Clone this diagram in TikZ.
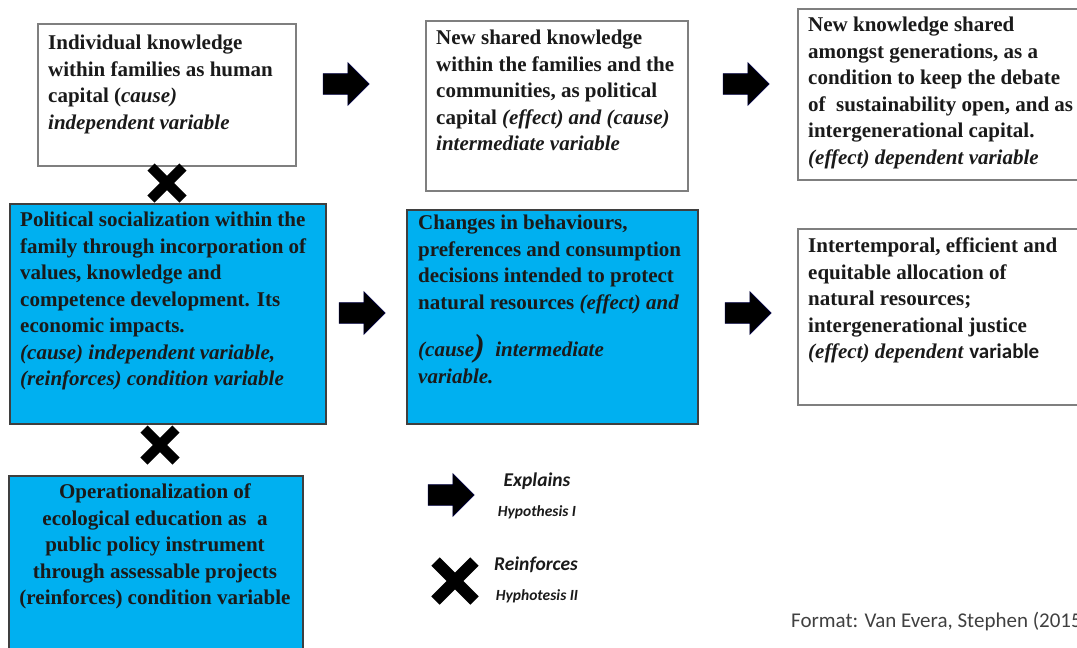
\documentclass[tikz,border=0pt]{standalone}
\usepackage{fontspec}
\setmainfont{Liberation Serif}
\newfontfamily\calibri{Carlito}
\usetikzlibrary{shapes.arrows,shapes.misc}

\definecolor{boxblue}{HTML}{00B0F0}
\definecolor{boxline}{HTML}{7F7F7F}
\definecolor{darkline}{HTML}{3F3F3F}
\definecolor{inktext}{HTML}{1A1A1A}

\tikzset{
  whitebox/.style={draw=boxline, line width=1.5pt, fill=white, anchor=north west, inner sep=0pt},
  bluebox/.style={draw=darkline, line width=1.5pt, fill=boxblue, anchor=north west, inner sep=0pt},
  boxtext/.style={anchor=north west, inner sep=0pt, align=left, text=inktext,
    font=\fontsize{21}{26.5}\selectfont\bfseries},
  blockarrow/.style={shape=single arrow, fill=black, draw=black!75!blue, line width=0.6pt,
    single arrow head extend=11pt, inner xsep=0pt, inner ysep=10pt, minimum height=46pt},
  crossmark/.style={shape=cross out, draw=black, line width=10pt, minimum size=22pt, inner sep=0pt},
  legendtext/.style={inner sep=0pt, text=inktext, font=\calibri\bfseries\itshape},
}

\begin{document}
\begin{tikzpicture}[x=1pt,y=-1pt]
  \clip (0,0) rectangle (1077,648);

  %draw top row
  \node[whitebox, minimum width=258pt, minimum height=142pt] (human) at (37,23) {};
  \node[boxtext] (humantxt) at (48,35) {Individual knowledge\\within families as human\\capital (\textit{cause)}\\\textit{independent variable}};

  \node[whitebox, minimum width=262pt, minimum height=170pt] (political) at (425,20) {};
  \node[boxtext] (politicaltxt) at (436,30) {New shared knowledge\\within the families and the\\communities, as political\\capital \textit{(effect) and (cause)}\\\textit{intermediate variable}};

  \node[whitebox, minimum width=300pt, minimum height=171pt] (intergen) at (797,8) {};
  \node[boxtext] (intergentxt) at (808,17) {New knowledge shared\\amongst generations, as a\\condition to keep the debate\\of\ \ sustainability open, and as\\intergenerational capital.\\\textit{(effect) dependent variable}};

  %draw middle row
  \node[bluebox, minimum width=316pt, minimum height=220pt] (social) at (9,203) {};
  \node[boxtext] (socialtxt) at (20,212) {Political socialization within the\\family through incorporation of\\values, knowledge and\\competence development. Its\\economic impacts.\\\textit{(cause) independent variable,}\\\textit{(reinforces) condition variable}};

  \node[bluebox, minimum width=291pt, minimum height=214pt] (behav) at (406,209) {};
  \node[boxtext] (behavtxt) at (418,215) {Changes in behaviours,\\preferences and consumption\\decisions intended to protect\\natural resources \textit{(effect) and}\\[20pt]\textit{(cause{\fontsize{32}{32}\selectfont)}}\ \ \textit{intermediate}\\\textit{variable.}};

  \node[whitebox, minimum width=300pt, minimum height=176pt] (alloc) at (797,228) {};
  \node[boxtext] (alloctxt) at (808,238) {Intertemporal, efficient and\\equitable allocation of\\natural resources;\\intergenerational justice\\\textit{(effect) dependent} {\calibri variable}};

  %draw bottom box
  \node[bluebox, minimum width=294pt, minimum height=200pt] (ecoedu) at (8,475) {};
  \node[boxtext, anchor=north, align=center] (ecoedutxt) at (155,484) {Operationalization of\\ecological education as\ \ a\\public policy instrument\\through assessable projects\\(reinforces) condition variable};

  %draw arrows and crosses
  \node[blockarrow] (arrA) at (341,84) {};
  \node[blockarrow] (arrB) at (741,84) {};
  \node[blockarrow] (arrC) at (357,313) {};
  \node[blockarrow] (arrD) at (743,313) {};
  \node[crossmark] (crossA) at (167,183) {};
  \node[crossmark] (crossB) at (160,445) {};

  %draw legend
  \node[blockarrow] (keyarrow) at (446,495) {};
  \node[crossmark, line width=12pt, minimum size=27pt] (keycross) at (455,581) {};
  \node[legendtext, font=\calibri\bfseries\itshape\fontsize{19.5}{22}\selectfont] (explains) at (537,481) {Explains};
  \node[legendtext, font=\calibri\bfseries\itshape\fontsize{15.5}{18}\selectfont] (hypone) at (537,512) {Hypothesis I};
  \node[legendtext, font=\calibri\bfseries\itshape\fontsize{19.5}{22}\selectfont] (reinforces) at (536,565) {Reinforces};
  \node[legendtext, font=\calibri\bfseries\itshape\fontsize{15.5}{18}\selectfont] (hyptwo) at (537,596) {Hyphotesis II};

  \node[anchor=base west, inner sep=0pt, text=black!75, font=\calibri\fontsize{21}{24}\selectfont] (format) at (791,627) {Format: Van Evera, Stephen (2015)};
\end{tikzpicture}
\end{document}
